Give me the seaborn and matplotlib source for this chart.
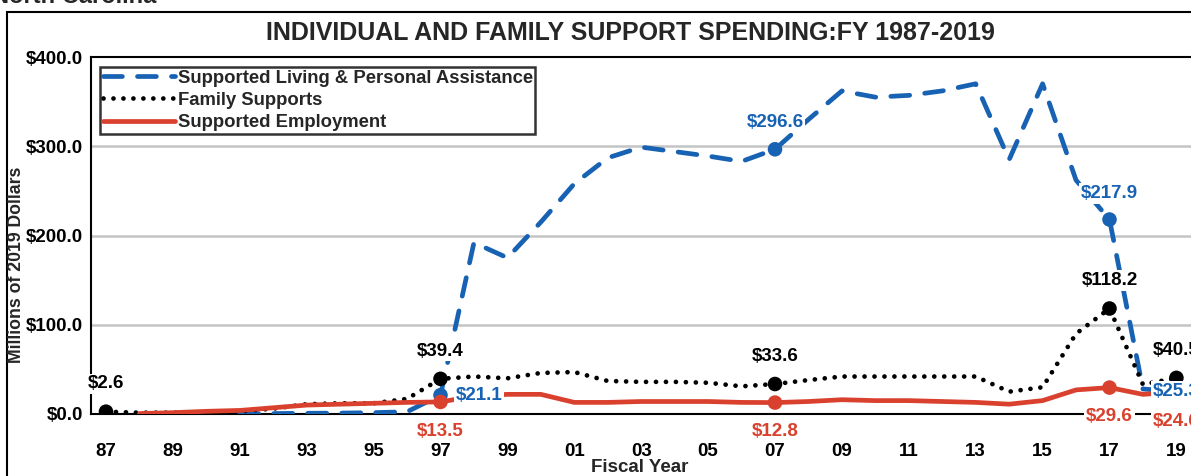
import numpy as np
import pandas as pd
import matplotlib
matplotlib.use("Agg")
import matplotlib.pyplot as plt
from matplotlib.patches import Rectangle
import seaborn as sns

# ---------------- data ----------------
living_years = [1991, 1992, 1993, 1994, 1995, 1996, 1997, 1998, 1999, 2000, 2001, 2002, 2003,
                2004, 2005, 2006, 2007, 2008, 2009, 2010, 2011, 2012, 2013, 2014, 2015,
                2016, 2017, 2018, 2019]
living_vals = [0.3, 0.5, 0.8, 1.0, 1.5, 2.5, 21.1, 192, 175, 215, 258, 287, 299,
               294, 289, 283, 296.6, 330, 362, 355, 357, 362, 370, 285, 370,
               262, 217.9, 28, 25.3]

family_years = list(range(1987, 2020))
family_vals = [2.6, 1.5, 1.5, 2.0, 3.0, 6.0, 11, 12, 12, 17, 39.4, 42, 40, 46, 47, 37, 36,
               36, 35, 31, 33.6, 38, 42, 42, 42, 42, 42, 25, 30, 90, 118.2, 33, 40.5]

employ_years = list(range(1988, 2020))
employ_vals = [0.5, 1.5, 3.0, 4.0, 7.0, 10, 11, 12, 13, 13.5, 20, 22, 22, 13, 13, 14,
               14, 14, 13, 12.8, 14, 16, 15, 15, 14, 13, 11, 15, 27, 29.6, 22, 24.6]

label_years = [1987, 1997, 2007, 2017, 2019]

series_names = ["Supported Living & Personal Assistance", "Family Supports", "Supported Employment"]
title = "INDIVIDUAL AND FAMILY SUPPORT SPENDING:FY 1987-2019"
ytick_vals = [0, 100, 200, 300, 400]
xtick_years = list(range(1987, 2020, 2))

BLUE = "#1862b4"
BLACK = "#000000"
RED = "#d9412e"

sns.set_theme(style="white")
plt.rcParams["font.family"] = ["Liberation Sans", "DejaVu Sans"]

W, H = 1191, 476
fig = plt.figure(figsize=(W / 100, H / 100), dpi=100)

# axes placement in pixels
ax_left, ax_top, ax_bottom, ax_right = 91, 57, 414, 1215
ax = fig.add_axes([ax_left / W, 1 - ax_bottom / H, (ax_right - ax_left) / W, (ax_bottom - ax_top) / H])
px_per_year = 33.45
x0 = 1987 - (106 - ax_left) / px_per_year
x1 = x0 + (ax_right - ax_left) / px_per_year
ax.set_xlim(x0, x1)
ax.set_ylim(0, 400)

df_l = pd.DataFrame({"year": living_years, "val": living_vals})
df_f = pd.DataFrame({"year": family_years, "val": family_vals})
df_e = pd.DataFrame({"year": employ_years, "val": employ_vals})

sns.lineplot(data=df_l, x="year", y="val", ax=ax, color=BLUE, lw=3.4,
             linestyle=(0, (4.0, 3.2)), dash_capstyle="round", label=series_names[0], zorder=3)
sns.lineplot(data=df_f, x="year", y="val", ax=ax, color=BLACK, lw=3.4,
             linestyle=(0, (0.01, 2.1)), dash_capstyle="round", label=series_names[1], zorder=4)
sns.lineplot(data=df_e, x="year", y="val", ax=ax, color=RED, lw=3.4,
             label=series_names[2], zorder=5)

# markers at labelled years
def pick(years, vals, sel):
    d = dict(zip(years, vals))
    ys = [y for y in sel if y in d]
    return pd.DataFrame({"year": ys, "val": [d[y] for y in ys]})

mk_l = pick(living_years, living_vals, [1997, 2007, 2017, 2019])
mk_f = pick(family_years, family_vals, label_years)
mk_e = pick(employ_years, employ_vals, [1997, 2007, 2017, 2019])
sns.scatterplot(data=mk_l, x="year", y="val", ax=ax, color=BLUE, s=110, edgecolor="none", zorder=6, legend=False)
sns.scatterplot(data=mk_f, x="year", y="val", ax=ax, color=BLACK, s=110, edgecolor="none", zorder=6, legend=False)
sns.scatterplot(data=mk_e, x="year", y="val", ax=ax, color=RED, s=110, edgecolor="none", zorder=6, legend=False)

# data labels
def lab(x, y, text, color, dx=0, dy=0, ha="center"):
    ax.annotate(text, (x, y), xytext=(dx, dy), textcoords="offset points", ha=ha, va="center",
                fontsize=13.5, fontweight="bold", color=color, zorder=10, annotation_clip=False,
                bbox=dict(boxstyle="square,pad=0.1", fc="white", ec="none"))

fmt = lambda v: f"${v:.1f}"
dlf = dict(zip(family_years, family_vals))
dll = dict(zip(living_years, living_vals))
dle = dict(zip(employ_years, employ_vals))
for yr in label_years:
    lab(yr, dlf[yr], fmt(dlf[yr]), BLACK, dy=20)
for yr in [2007, 2017]:
    lab(yr, dll[yr], fmt(dll[yr]), BLUE, dy=19)
lab(1997, dll[1997], fmt(dll[1997]), BLUE, dx=11, ha="left")
lab(2019, dll[2019], fmt(dll[2019]), BLUE)
for yr in [1997, 2007, 2017, 2019]:
    lab(yr, dle[yr], fmt(dle[yr]), RED, dy=-21)

# axes styling
ax.set_yticks(ytick_vals)
ax.set_yticklabels([f"${v:.1f}" for v in ytick_vals], fontsize=13.5, fontweight="bold")
ax.set_xticks(xtick_years)
ax.set_xticklabels([f"{y % 100:02d}" for y in xtick_years], fontsize=13.5, fontweight="bold")
ax.tick_params(axis="y", length=0, pad=6, colors="black")
ax.tick_params(axis="x", length=0, pad=21, colors="black")
ax.set_xlabel("")
ax.set_ylabel("")
for yv in [100, 200, 300]:
    ax.axhline(yv, color="#c4c4c4", lw=1.8, zorder=1)
for s in ["left", "top", "bottom"]:
    ax.spines[s].set_color("black")
    ax.spines[s].set_linewidth(1.5)
ax.spines["bottom"].set_zorder(2)
ax.spines["right"].set_visible(False)

leg = ax.legend(loc="upper left", bbox_to_anchor=((100 - ax_left) / (ax_right - ax_left), (ax_bottom - 67) / (ax_bottom - ax_top)),
                frameon=True, fancybox=False, edgecolor="black", fontsize=13.3,
                handlelength=3.9, handletextpad=0.15, borderpad=0.15, labelspacing=0.28,
                borderaxespad=0)
leg.get_frame().set_linewidth(1.8)
for t in leg.get_texts():
    t.set_fontweight("bold")

fig.text(630 / W, 1 - 33 / H, title, ha="center", va="center", fontsize=18, fontweight="bold")
fig.text(17 / W, 1 - 265 / H, "Millions of 2019 Dollars", rotation=90, ha="center", va="center",
         fontsize=12.7, fontweight="bold")
fig.text(640 / W, 1 - 467 / H, "Fiscal Year", ha="center", va="center", fontsize=13.5, fontweight="bold")
fig.text(-8 / W, 1 - 3 / H, "North Carolina", ha="left", va="baseline", fontsize=17, fontweight="bold")

fig.add_artist(Rectangle((7 / W, -0.1), 1.2, 1 - 12 / H + 0.1, transform=fig.transFigure,
                         fill=False, ec="black", lw=1.5))

fig.savefig("out.png", dpi=100)
